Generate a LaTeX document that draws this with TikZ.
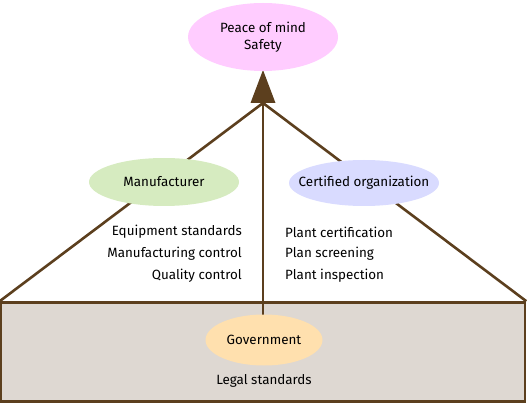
\documentclass[tikz,border=0pt]{standalone}
\usepackage{fontspec}
\setmainfont{Fira Sans}
\usetikzlibrary{shapes.geometric}
\definecolor{brn}{HTML}{5C3F1E}
\definecolor{pinkf}{HTML}{FFCCFF}
\definecolor{greenf}{HTML}{D6EBC0}
\definecolor{bluef}{HTML}{D9DBFF}
\definecolor{orangef}{HTML}{FFE0AE}
\definecolor{greyf}{HTML}{DED8D2}
\begin{document}
\begin{tikzpicture}[x=1pt,y=-1pt,
  oval/.style={ellipse,draw=none,inner xsep=-25pt,inner ysep=-4pt,font=\fontsize{13.4}{16.5}\selectfont,align=center},
  lbl/.style={inner sep=0pt,font=\fontsize{13.4}{16.5}\selectfont},
  edge/.style={draw=brn,line width=2.6pt}]
\useasboundingbox (0,0) rectangle (527,403);
\node[draw=brn,line width=2.6pt,fill=greyf,minimum width=524pt,minimum height=99pt,inner sep=0pt] (base) at (263,352) {};
\coordinate (apex) at (263,103);
\coordinate (tip) at (263,70);
\draw[edge,line join=miter] (base.north west) -- (apex) -- (base.north east);
\draw[edge] (apex) -- (263,320);
\fill[brn] (tip) -- (275.5,103) -- (250.5,103) -- cycle;
\node[oval,fill=pinkf,minimum width=150pt,minimum height=68pt] (peace) at (263,37) {Peace of mind\\Safety};
\node[oval,fill=greenf,minimum width=150pt,minimum height=48pt] (manu) at (164,182) {Manufacturer};
\node[oval,fill=bluef,minimum width=150pt,minimum height=46pt] (cert) at (364,183) {Certified organization};
\node[oval,fill=orangef,minimum width=117pt,minimum height=51pt] (gov) at (264,340) {Government};
\node[lbl,anchor=east] (m1) at (242,232) {Equipment standards};
\node[lbl,anchor=east] (m2) at (242,254) {Manufacturing control};
\node[lbl,anchor=east] (m3) at (242,276) {Quality control};
\node[lbl,anchor=west] (c1) at (285,232) {Plant certification};
\node[lbl,anchor=west] (c2) at (285,254) {Plan screening};
\node[lbl,anchor=west] (c3) at (285,276) {Plant inspection};
\node[lbl] (legal) at (264,381) {Legal standards};
\end{tikzpicture}
\end{document}
